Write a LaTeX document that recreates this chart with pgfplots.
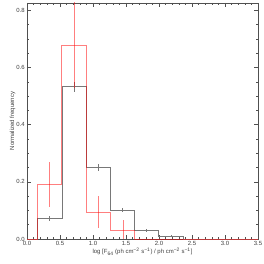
\documentclass[border=0pt]{standalone}
\usepackage{fontspec}
\setmainfont{Liberation Sans}
\usepackage{pgfplots}
\pgfplotsset{compat=1.18}
\definecolor{axgrey}{RGB}{80,80,80}
\definecolor{histgrey}{RGB}{120,120,120}
\begin{document}
\fontsize{6}{7}\selectfont
\begin{tikzpicture}
\path[use as bounding box] (-27bp,-25bp) rectangle (237bp,239bp);
\begin{axis}[
 scale only axis, width=231bp, height=236bp,
 xmin=0, xmax=3.5, ymin=0, ymax=0.826,
 xtick={0,0.5,1,1.5,2,2.5,3,3.5}, minor x tick num=4,
 ytick={0,0.2,0.4,0.6,0.8}, minor y tick num=3,
 tick align=inside, major tick length=4bp, minor tick length=2bp,
 axis line style={axgrey, line width=0.5pt},
 tick style={axgrey, line width=0.5pt},
 /pgf/number format/assume math mode=true,
 /pgf/number format/fixed, /pgf/number format/fixed zerofill, /pgf/number format/precision=1,
 tick label style={font=\fontsize{6}{7}\selectfont, text=black!75},
 label style={font=\fontsize{6}{7}\selectfont, text=black!75},
 xlabel={log [F\textsubscript{64} (ph cm\textsuperscript{−2} s\textsuperscript{−1}) / ph cm\textsuperscript{−2} s\textsuperscript{−1}]},
 ylabel={Normalized frequency},
 xlabel style={yshift=2bp},
 ylabel style={yshift=-3bp},
]
\addplot[histgrey, line width=0.5pt, const plot mark left] coordinates {
 (0,0) (0.16,0.072) (0.527,0.533) (0.894,0.251) (1.261,0.102) (1.628,0.029) (1.995,0.011) (2.362,0) (3.5,0)};
\addplot[histgrey, line width=0.5pt, draw=none, mark=none, forget plot,
 error bars/.cd, y dir=both, y explicit, error mark=none, error bar style={histgrey, line width=0.5pt}] coordinates {
 (0.344,0.072) +- (0,0.008)
 (0.711,0.533) +- (0,0.018)
 (1.078,0.251) +- (0,0.012)
 (1.445,0.102) +- (0,0.008)
 (1.812,0.029) +- (0,0.005)
 (2.179,0.011) +- (0,0.003)};
\addplot[red, opacity=0.5, line width=0.6pt, const plot mark left] coordinates {
 (0,0) (0.16,0.192) (0.527,0.679) (0.894,0.095) (1.261,0.032) (1.628,0) (3.5,0)};
\addplot[red, draw=none, mark=none, forget plot,
 error bars/.cd, y dir=both, y explicit, error mark=none, error bar style={red, opacity=0.5, line width=0.6pt}] coordinates {
 (0.344,0.192) +- (0,0.079)
 (0.711,0.679) +- (0,0.15)
 (1.085,0.095) +- (0,0.057)
 (1.455,0.032) +- (0,0.033)};
\end{axis}
\end{tikzpicture}
\end{document}
